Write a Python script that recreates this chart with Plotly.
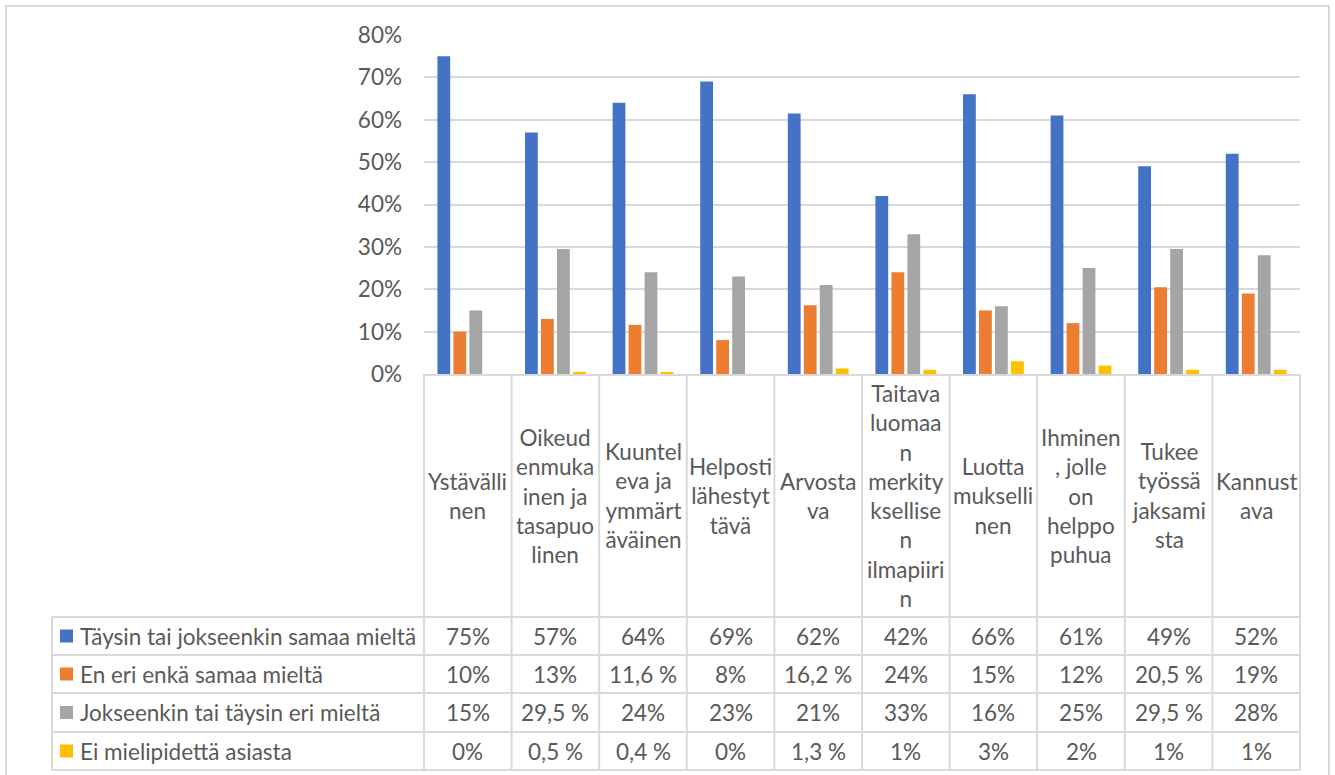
import plotly.graph_objects as go

# ---------------- data ----------------
categories = ["Ystävällinen", "Oikeudenmukainen ja tasapuolinen", "Kuunteleva ja ymmärtäväinen",
              "Helposti lähestyttävä", "Arvostava", "Taitava luomaan merkityksellisen ilmapiirin",
              "Luottamuksellinen", "Ihminen, jolle on helppo puhua", "Tukee työssä jaksamista",
              "Kannustava"]
category_labels = ["Ystävälli<br>nen", "Oikeud<br>enmuka<br>inen ja<br>tasapuo<br>linen",
                   "Kuuntel<br>eva ja<br>ymmärt<br>äväinen", "Helposti<br>lähestyt<br>tävä",
                   "Arvosta<br>va", "Taitava<br>luomaa<br>n<br>merkity<br>ksellise<br>n<br>ilmapiiri<br>n",
                   "Luotta<br>mukselli<br>nen", "Ihminen<br>, jolle<br>on<br>helppo<br>puhua",
                   "Tukee<br>työssä<br>jaksami<br>sta", "Kannust<br>ava"]
series_names = ["Täysin tai jokseenkin samaa mieltä", "En eri enkä samaa mieltä",
                "Jokseenkin tai täysin eri mieltä", "Ei mielipidettä asiasta"]
agree = [75, 57, 64, 69, 61.5, 42, 66, 61, 49, 52]
neutral = [10, 13, 11.6, 8, 16.2, 24, 15, 12, 20.5, 19]
disagree = [15, 29.5, 24, 23, 21, 33, 16, 25, 29.5, 28]
no_opinion = [0, 0.5, 0.4, 0, 1.3, 1, 3, 2, 1, 1]
# values as shown in the data table
agree_table = [75, 57, 64, 69, 62, 42, 66, 61, 49, 52]
series_values = [agree, neutral, disagree, no_opinion]
table_values = [agree_table, neutral, disagree, no_opinion]
y_ticks = [0, 10, 20, 30, 40, 50, 60, 70, 80]

colors = ["#4472C4", "#ED7D31", "#A5A5A5", "#FFC000"]
FONT = "Lato"
TXT = "#595959"
GRID = "#D9D9D9"
FS = 22.5

W, H = 1335, 775
L, R, T, B = 424, 1300, 35, 374


def fx(px):
    return (px - L) / (R - L)


def fy(py):
    return (B - py) / (B - T)


def fmt(v):
    if float(v).is_integer():
        return f"{int(v)}%"
    return f"{v:.1f}".replace(".", ",") + " %"


fig = go.Figure()
for name, vals, c in zip(series_names, series_values, colors):
    fig.add_trace(go.Bar(x=categories, y=[v / 100 for v in vals], name=name,
                         marker=dict(color=c, line=dict(width=0))))

shapes = []
annotations = []

# outer border
shapes.append(dict(type="rect", xref="paper", yref="paper", x0=fx(6), x1=fx(1329),
                   y0=fy(6), y1=fy(777), line=dict(color=GRID, width=2), layer="below"))

table_top, table_bottom = 617, 770
row_edges = [617, 655, 693, 732, 770]
# vertical lines at category boundaries
for i in range(len(categories) + 1):
    x = i / len(categories)
    shapes.append(dict(type="line", xref="paper", yref="paper", x0=x, x1=x,
                       y0=fy(B), y1=fy(table_bottom), line=dict(color=GRID, width=2)))
# left border of legend column
shapes.append(dict(type="line", xref="paper", yref="paper", x0=fx(52), x1=fx(52),
                   y0=fy(table_top), y1=fy(table_bottom), line=dict(color=GRID, width=2)))
# horizontal table lines
for ry in row_edges:
    shapes.append(dict(type="line", xref="paper", yref="paper", x0=fx(52), x1=1,
                       y0=fy(ry), y1=fy(ry), line=dict(color=GRID, width=2)))

# category labels
for cat, lab in zip(categories, category_labels):
    annotations.append(dict(x=cat, xref="x", y=fy((B + table_top) / 2), yref="paper",
                            text=lab, showarrow=False, xanchor="center", yanchor="middle",
                            font=dict(family=FONT, size=FS, color=TXT)))

# data table rows
for r, (name, vals, c) in enumerate(zip(series_names, table_values, colors)):
    cy = (row_edges[r] + row_edges[r + 1]) / 2
    shapes.append(dict(type="rect", xref="paper", yref="paper", x0=fx(60), x1=fx(73),
                       y0=fy(cy - 6.5), y1=fy(cy + 6.5), fillcolor=c, line=dict(width=0)))
    annotations.append(dict(x=fx(78), xref="paper", y=fy(cy), yref="paper", text=name,
                            showarrow=False, xanchor="left", yanchor="middle",
                            font=dict(family=FONT, size=FS, color=TXT)))
    for cat, v in zip(categories, vals):
        annotations.append(dict(x=cat, xref="x", y=fy(cy), yref="paper", text=fmt(v),
                                showarrow=False, xanchor="center", yanchor="middle",
                                font=dict(family=FONT, size=FS, color=TXT)))

fig.update_layout(
    width=W, height=H,
    margin=dict(l=L, r=W - R, t=T, b=H - B),
    paper_bgcolor="white", plot_bgcolor="white",
    barmode="group", bargap=0.27, bargroupgap=0.2,
    showlegend=False,
    font=dict(family=FONT, size=FS, color=TXT),
    shapes=shapes, annotations=annotations,
    xaxis=dict(showticklabels=False, showgrid=False, showline=True, linecolor=GRID,
               linewidth=2, ticks="", zeroline=False, range=[-0.5, len(categories) - 0.5]),
    yaxis=dict(range=[0, 0.8], tickvals=[t / 100 for t in y_ticks],
               ticktext=[f"{t}%" for t in y_ticks], showgrid=True, gridcolor=GRID,
               gridwidth=1.5, zeroline=False, showline=False, ticks="",
               ticklabelstandoff=21, tickfont=dict(family=FONT, size=FS, color=TXT)),
)

fig.write_html("out.html")
